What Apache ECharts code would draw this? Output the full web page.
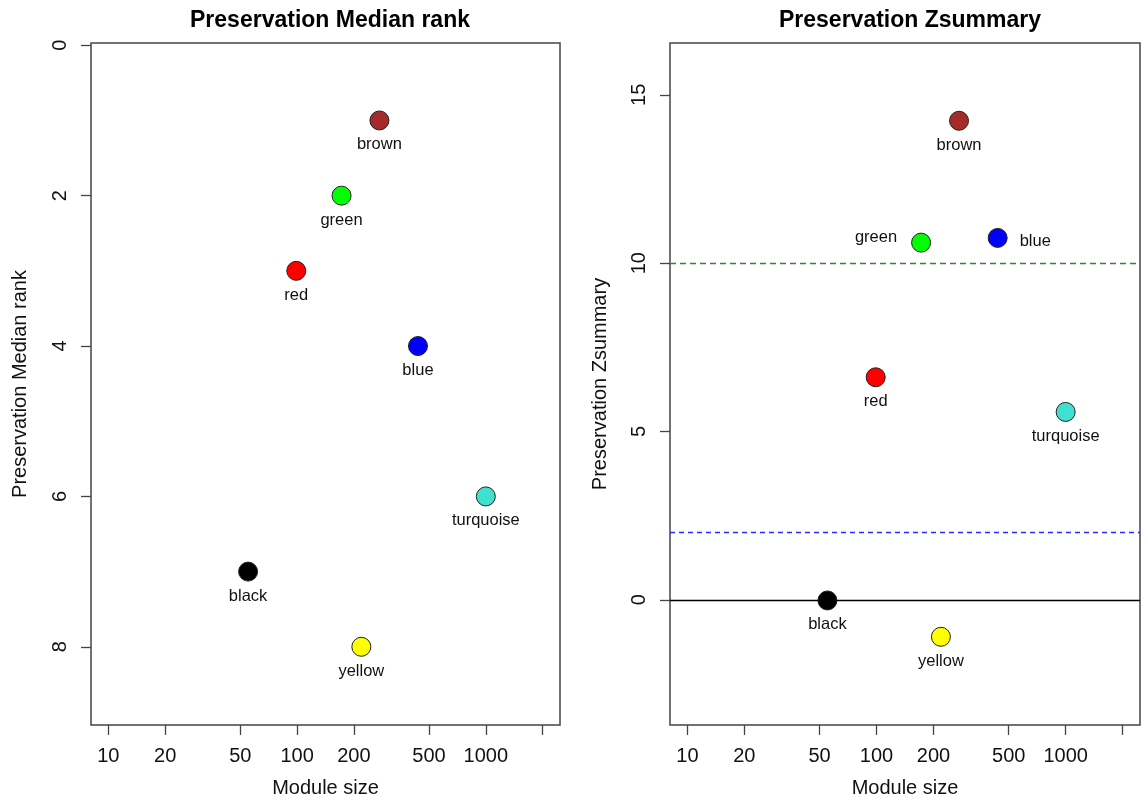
<!DOCTYPE html>
<html>
<head>
<meta charset="utf-8">
<title>Module preservation</title>
<script src="https://cdn.jsdelivr.net/npm/echarts@6/dist/echarts.min.js"></script>
<style>
  html, body { margin: 0; padding: 0; background: #fff; }
  #main { width: 1148px; height: 800px; }
</style>
</head>
<body>
<div id="main"></div>
<script>
// module data
var modules = ['black', 'red', 'green', 'yellow', 'brown', 'blue', 'turquoise'];
var moduleColors = ['#000000', '#FF0000', '#00FF00', '#FFFF00', '#A52A2A', '#0000FF', '#40E0D0'];
var moduleSize = [55, 99, 172, 219, 273, 437, 1000];
var medianRank = [7, 3, 2, 8, 1, 4, 6];
var zSummary = [-0.02, 6.61, 10.61, -1.10, 14.23, 10.75, 5.58];

// axis ticks
var sizeTicks = [10, 20, 50, 100, 200, 500, 1000, 2000];
var sizeLabels = [10, 20, 50, 100, 200, 500, 1000];
var rankTicks = [0, 2, 4, 6, 8];
var zTicks = [0, 5, 10, 15];
var zThresholds = [0, 2, 10];
var zThresholdColors = ['#000000', '#2B2BFF', '#3F7F3F'];
var zThresholdTypes = ['solid', [5, 4], [6, 4]];

var FONT = '"Liberation Sans", Arial, Helvetica, sans-serif';
var log10 = function (v) { return Math.log(v) / Math.LN10; };

// label placement per module (right panel uses R labelPoints style offsets)
var leftLabel = { position: 'bottom', distance: 6 };
var rightLabels = {
    green: { position: 'left', distance: 14, offset: [0, -5] },
    blue: { position: 'right', distance: 12, offset: [0, 4] }
};

function buildData(yvals, labelFor) {
    var out = [];
    for (var i = 0; i < modules.length; i++) {
        var lab = labelFor(modules[i]);
        out.push({
            name: modules[i],
            value: [log10(moduleSize[i]), yvals[i]],
            itemStyle: { color: moduleColors[i], opacity: 1 },
            label: {
                show: true,
                formatter: modules[i],
                position: lab.position,
                distance: lab.distance,
                offset: lab.offset || [0, 0],
                color: '#111',
                fontSize: 16.5,
                fontFamily: FONT
            }
        });
    }
    return out;
}

function xAxisFor(idx) {
    return {
        gridIndex: idx,
        type: 'value',
        min: log10(8.09),
        max: log10(2472),
        name: 'Module size',
        nameLocation: 'middle',
        nameGap: 53,
        nameTextStyle: { fontSize: 20, color: '#111', fontFamily: FONT },
        axisLine: { show: false, onZero: false },
        splitLine: { show: false },
        axisTick: {
            show: true, length: 10,
            lineStyle: { color: '#444', width: 1.3 },
            customValues: sizeTicks.map(log10)
        },
        axisLabel: {
            fontSize: 20, color: '#111', fontFamily: FONT, margin: 21,
            customValues: sizeLabels.map(log10),
            formatter: function (v) { return String(Math.round(Math.pow(10, v))); }
        }
    };
}

function yAxisFor(idx, opts) {
    return {
        gridIndex: idx,
        type: 'value',
        inverse: opts.inverse,
        min: opts.min,
        max: opts.max,
        name: opts.name,
        nameLocation: 'middle',
        nameGap: opts.nameGap,
        nameTextStyle: { fontSize: 20, color: '#111', fontFamily: FONT },
        axisLine: { show: false, onZero: false },
        splitLine: { show: false },
        axisTick: {
            show: true, length: 10,
            lineStyle: { color: '#444', width: 1.3 },
            customValues: opts.ticks
        },
        axisLabel: {
            fontSize: 20, color: '#111', fontFamily: FONT, rotate: 90, margin: 21,
            customValues: opts.ticks
        }
    };
}

var markData = [];
for (var k = 0; k < zThresholds.length; k++) {
    markData.push({
        yAxis: zThresholds[k],
        lineStyle: { color: zThresholdColors[k], type: zThresholdTypes[k], width: 1.3, opacity: 1 }
    });
}

var myChart = echarts.init(document.getElementById('main'));
var option = {
    backgroundColor: '#ffffff',
    animation: false,
    title: [
        { text: 'Preservation Median rank', left: 325, top: 4, textAlign: 'center',
          textStyle: { fontSize: 23, fontWeight: 'bold', color: '#000', fontFamily: FONT } },
        { text: 'Preservation Zsummary', left: 905, top: 4, textAlign: 'center',
          textStyle: { fontSize: 23, fontWeight: 'bold', color: '#000', fontFamily: FONT } }
    ],
    grid: [
        { left: 91, top: 43, width: 469, height: 682, show: true, outerBoundsMode: 'none',
          borderColor: '#444', borderWidth: 1.5, backgroundColor: 'transparent' },
        { left: 670, top: 43, width: 470, height: 682, show: true, outerBoundsMode: 'none',
          borderColor: '#444', borderWidth: 1.5, backgroundColor: 'transparent' }
    ],
    xAxis: [xAxisFor(0), xAxisFor(1)],
    yAxis: [
        yAxisFor(0, { inverse: true, min: -0.03, max: 9.04, ticks: rankTicks,
                      name: 'Preservation Median rank', nameGap: 61 }),
        yAxisFor(1, { inverse: false, min: -3.72, max: 16.54, ticks: zTicks,
                      name: 'Preservation Zsummary', nameGap: 60 })
    ],
    series: [
        {
            name: 'Median rank',
            type: 'scatter',
            xAxisIndex: 0, yAxisIndex: 0,
            symbolSize: 19,
            itemStyle: { borderColor: '#222', borderWidth: 1, opacity: 1 },
            data: buildData(medianRank, function () { return leftLabel; })
        },
        {
            name: 'Zsummary',
            type: 'scatter',
            xAxisIndex: 1, yAxisIndex: 1,
            symbolSize: 19,
            itemStyle: { borderColor: '#222', borderWidth: 1, opacity: 1 },
            markLine: {
                silent: true,
                symbol: 'none',
                label: { show: false },
                data: markData
            },
            data: buildData(zSummary, function (m) { return rightLabels[m] || leftLabel; })
        }
    ]
};
myChart.setOption(option);
</script>
</body>
</html>
